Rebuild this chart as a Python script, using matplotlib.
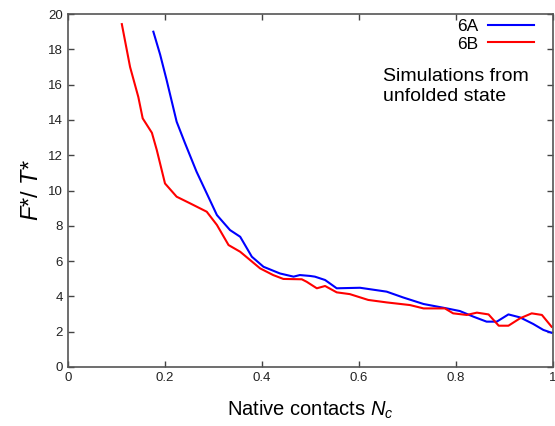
import matplotlib
matplotlib.use("Agg")
import matplotlib.pyplot as plt

plt.rcParams["font.family"] = ["Liberation Sans", "DejaVu Sans"]
plt.rcParams["mathtext.fontset"] = "custom"
plt.rcParams["mathtext.it"] = "Liberation Sans:italic"
plt.rcParams["mathtext.rm"] = "Liberation Sans"

# 6A (blue)
nc_6a = [0.176, 0.190, 0.203, 0.224, 0.241, 0.265, 0.286, 0.307, 0.334, 0.355,
         0.379, 0.403, 0.437, 0.465, 0.478, 0.499, 0.509, 0.530, 0.554, 0.602,
         0.657, 0.691, 0.733, 0.781, 0.808, 0.836, 0.863, 0.884, 0.908, 0.932,
         0.959, 0.980, 0.997]
f_6a = [19.0, 17.7, 16.3, 13.9, 12.7, 11.07, 9.84, 8.61, 7.76, 7.38,
        6.25, 5.68, 5.30, 5.12, 5.21, 5.16, 5.12, 4.93, 4.46, 4.49,
        4.27, 3.94, 3.57, 3.32, 3.17, 2.85, 2.57, 2.57, 2.98, 2.81,
        2.44, 2.10, 1.94]

# 6B (red)
nc_6b = [0.111, 0.128, 0.145, 0.154, 0.173, 0.183, 0.200, 0.224, 0.252, 0.286,
         0.307, 0.331, 0.355, 0.396, 0.423, 0.444, 0.482, 0.492, 0.513, 0.530,
         0.554, 0.581, 0.619, 0.657, 0.705, 0.733, 0.777, 0.794, 0.822, 0.843,
         0.867, 0.888, 0.908, 0.932, 0.956, 0.977, 0.997]
f_6b = [19.43, 17.0, 15.3, 14.09, 13.27, 12.3, 10.4, 9.65, 9.27, 8.80,
        8.05, 6.91, 6.53, 5.59, 5.21, 4.99, 4.97, 4.83, 4.46, 4.59,
        4.23, 4.13, 3.80, 3.66, 3.51, 3.32, 3.32, 3.04, 2.95, 3.08,
        2.98, 2.34, 2.34, 2.76, 3.04, 2.95, 2.28]

x_ticks = [0, 0.2, 0.4, 0.6, 0.8, 1]
x_labels = ["0", "0.2", "0.4", "0.6", "0.8", "1"]
y_ticks = list(range(0, 21, 2))

fig = plt.figure(figsize=(5.55, 4.26), dpi=100)
ax = fig.add_axes([0.1225, 0.1385, 0.874, 0.8285])

ax.plot(nc_6a, f_6a, color="#0000ff", lw=1.5, label="6A")
ax.plot(nc_6b, f_6b, color="#ff0000", lw=1.5, label="6B")

ax.set_xlim(0, 1)
ax.set_ylim(0, 20)
ax.set_xticks(x_ticks)
ax.set_xticklabels(x_labels)
ax.set_yticks(y_ticks)
ax.tick_params(direction="in", length=4, width=1, top=True, right=True,
               labelsize=9.5, colors="#444444", labelcolor="#222222")
for s in ax.spines.values():
    s.set_color("#555555")
    s.set_linewidth(1.2)

ax.set_xlabel("Native contacts $N_c$", fontsize=14.5, labelpad=11)
ax.set_ylabel("$F$*/ $T$*", fontsize=17, labelpad=4)

leg = ax.legend(loc="upper right", bbox_to_anchor=(0.985, 1.02), frameon=False,
                markerfirst=False, fontsize=12.5, handlelength=2.6,
                handletextpad=0.6, labelspacing=0.12, borderpad=0.2)

ax.text(0.649, 0.848, "Simulations from\nunfolded state", transform=ax.transAxes,
        fontsize=14, va="top", ha="left", linespacing=1.25)

fig.savefig("out.png", dpi=100)
